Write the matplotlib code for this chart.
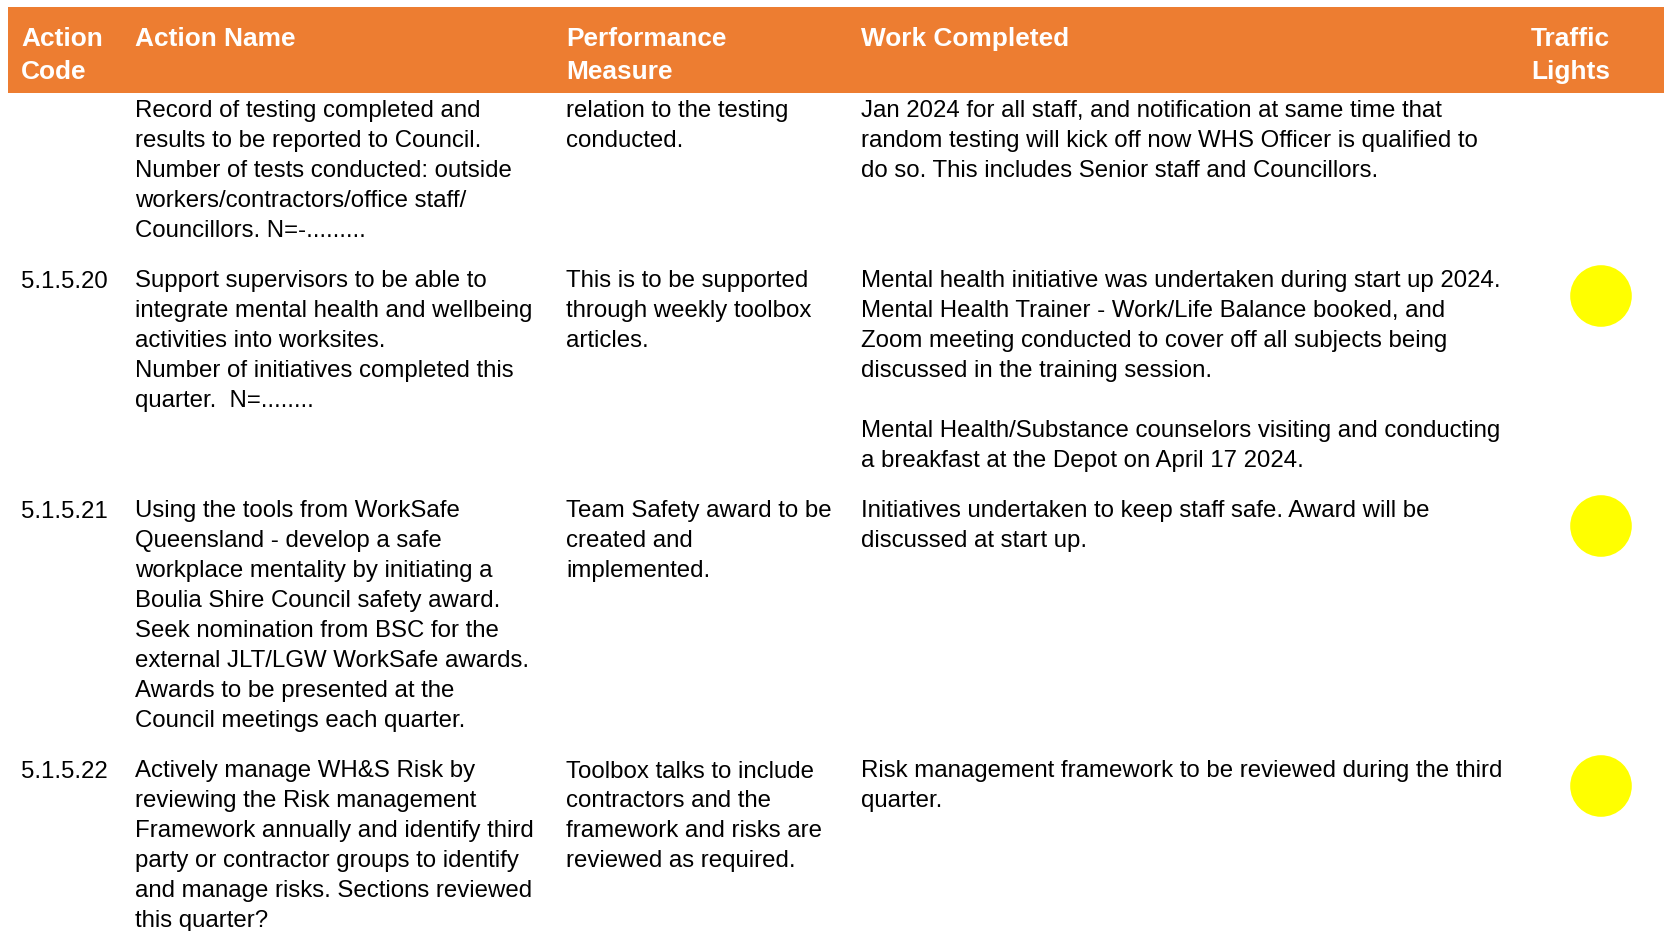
import matplotlib
matplotlib.use("Agg")
import matplotlib.pyplot as plt
from matplotlib.patches import Rectangle, Circle

plt.rcParams['font.family'] = ['Liberation Sans', 'DejaVu Sans']

# ---- data ----
headers = [["Action", "Code"], ["Action Name"], ["Performance", "Measure"],
           ["Work Completed"], ["Traffic", "Lights"]]

action_codes = ["", "5.1.5.20", "5.1.5.21", "5.1.5.22"]

action_names = [
    ["Record of testing completed and", "results to be reported to Council.",
     "Number of tests conducted: outside", "workers/contractors/office staff/",
     "Councillors. N=-........."],
    ["Support supervisors to be able to", "integrate mental health and wellbeing",
     "activities into worksites.", "Number of initiatives completed this",
     "quarter.  N=........"],
    ["Using the tools from WorkSafe", "Queensland - develop a safe",
     "workplace mentality by initiating a", "Boulia Shire Council safety award.",
     "Seek nomination from BSC for the", "external JLT/LGW WorkSafe awards.",
     "Awards to be presented at the", "Council meetings each quarter."],
    ["Actively manage WH&S Risk by", "reviewing the Risk management",
     "Framework annually and identify third", "party or contractor groups to identify",
     "and manage risks. Sections reviewed", "this quarter?"],
]

performance_measures = [
    ["relation to the testing", "conducted."],
    ["This is to be supported", "through weekly toolbox", "articles."],
    ["Team Safety award to be", "created and", "implemented."],
    ["Toolbox talks to include", "contractors and the",
     "framework and risks are", "reviewed as required."],
]

work_completed = [
    ["Jan 2024 for all staff, and notification at same time that",
     "random testing will kick off now WHS Officer is qualified to",
     "do so. This includes Senior staff and Councillors."],
    ["Mental health initiative was undertaken during start up 2024.",
     "Mental Health Trainer - Work/Life Balance booked, and",
     "Zoom meeting conducted to cover off all subjects being",
     "discussed in the training session.", "",
     "Mental Health/Substance counselors visiting and conducting",
     "a breakfast at the Depot on April 17 2024."],
    ["Initiatives undertaken to keep staff safe. Award will be",
     "discussed at start up."],
    ["Risk management framework to be reviewed during the third",
     "quarter."],
]

traffic_lights = [None, "yellow", "yellow", "yellow"]

# ---- layout ----
W, H = 1664, 931
fig = plt.figure(figsize=(W / 100, H / 100), dpi=100)
ax = fig.add_axes([0, 0, 1, 1])
ax.set_xlim(0, W)
ax.set_ylim(H, 0)
ax.axis('off')

orange = '#ED7D31'
light_colors = {"yellow": '#FFFF00'}

col_x = [21, 135, 566, 861, 1531]
row_y = [111.5, 281.5, 511.5, 771.5]
line_h = 29.9
body_fs = 17.3
head_fs = 18.9
head_line_h = 33

ax.add_patch(Rectangle((8, 7), W - 8, 86, facecolor=orange, edgecolor='none'))
for x, lines in zip(col_x, headers):
    for i, t in enumerate(lines):
        ax.text(x, 39 + i * head_line_h, t, color='white', fontsize=head_fs,
                fontweight='bold', va='center', ha='left')

for r in range(len(action_codes)):
    y0 = row_y[r]
    cells = [[action_codes[r]], action_names[r], performance_measures[r], work_completed[r]]
    for c, lines in enumerate(cells):
        for i, t in enumerate(lines):
            ax.text(col_x[c], y0 + i * line_h, t, color='black', fontsize=body_fs,
                    va='center', ha='left')
    if traffic_lights[r]:
        ax.add_patch(Circle((1601, y0 + 14.5), 30.8, facecolor=light_colors[traffic_lights[r]],
                            edgecolor='none'))

fig.savefig('out.png', dpi=100)
